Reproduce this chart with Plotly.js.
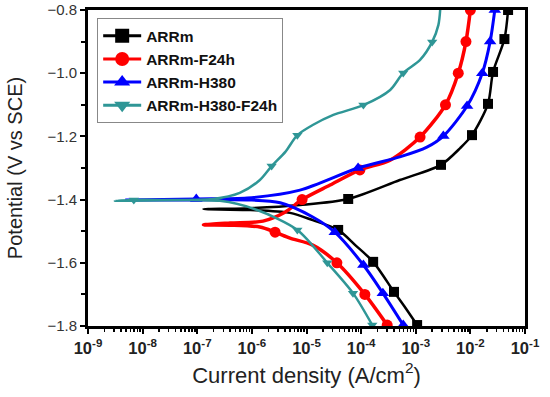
<!DOCTYPE html>
<html>
<head>
<meta charset="utf-8">
<script src="https://cdn.plot.ly/plotly-3.0.1.min.js"></script>
<style>html,body{margin:0;padding:0;background:#fff;}#chart{width:550px;height:397px;}</style>
</head>
<body>
<div id="chart"></div>
<script>
// ---- data (current density A/cm^2, potential V vs SCE) ----
const seriesNames = ["ARRm", "ARRm-F24h", "ARRm-H380", "ARRm-H380-F24h"];

// ARRm
const arrmI = [1.06e-3, 6.5e-4, 4.0e-4, 1.66e-4, 7.8e-5, 3.8e-5, 1.3e-5, 5.0e-6, 9.3e-7, 1.3e-7, 9.3e-7, 7.6e-6, 5.8e-5, 5.1e-4, 2.9e-3, 6.5e-3, 1.07e-2, 2.1e-2, 2.6e-2, 4.2e-2, 4.9e-2];
const arrmE = [-1.797, -1.743, -1.692, -1.597, -1.544, -1.496, -1.465, -1.442, -1.433, -1.430, -1.427, -1.417, -1.398, -1.338, -1.290, -1.237, -1.196, -1.097, -0.996, -0.892, -0.80];
const arrmMarkI = [1.06e-3, 4.0e-4, 1.66e-4, 3.8e-5, 5.8e-5, 2.9e-3, 1.07e-2, 2.1e-2, 2.6e-2, 4.2e-2, 4.9e-2];
const arrmMarkE = [-1.797, -1.692, -1.597, -1.496, -1.398, -1.290, -1.196, -1.097, -0.996, -0.892, -0.80];

// ARRm-F24h
const f24I = [3.0e-4, 1.17e-4, 3.6e-5, 1.3e-5, 5.0e-6, 2.66e-6, 1.4e-6, 4.0e-7, 1.3e-7, 4.0e-7, 1.6e-6, 4.1e-6, 8.3e-6, 2.7e-5, 9.5e-5, 3.4e-4, 1.2e-3, 3.5e-3, 6.0e-3, 8.3e-3, 1.0e-2];
const f24E = [-1.797, -1.700, -1.600, -1.544, -1.522, -1.503, -1.487, -1.481, -1.480, -1.474, -1.468, -1.439, -1.400, -1.354, -1.306, -1.275, -1.202, -1.100, -1.000, -0.900, -0.80];
const f24MarkI = [3.0e-4, 1.17e-4, 3.6e-5, 2.66e-6, 8.3e-6, 9.5e-5, 1.2e-3, 3.5e-3, 6.0e-3, 8.3e-3, 1.0e-2];
const f24MarkE = [-1.797, -1.700, -1.600, -1.503, -1.400, -1.306, -1.202, -1.100, -1.000, -0.900, -0.80];

// ARRm-H380
const h380I = [5.9e-4, 2.5e-4, 1.1e-4, 3.3e-5, 1.3e-5, 3.3e-6, 8.2e-7, 9.6e-8, 4.8e-9, 9.6e-8, 8.2e-7, 7.6e-6, 8.8e-5, 5.1e-4, 1.6e-3, 3.2e-3, 8.7e-3, 1.65e-2, 2.3e-2, 2.8e-2];
const h380E = [-1.797, -1.696, -1.607, -1.503, -1.455, -1.410, -1.401, -1.401, -1.401, -1.398, -1.395, -1.370, -1.300, -1.265, -1.234, -1.199, -1.104, -1.000, -0.900, -0.80];
const h380MarkI = [5.9e-4, 2.5e-4, 1.1e-4, 3.3e-5, 9.6e-8, 8.8e-5, 3.2e-3, 8.7e-3, 1.65e-2, 2.3e-2, 2.8e-2];
const h380MarkE = [-1.797, -1.696, -1.607, -1.503, -1.398, -1.300, -1.199, -1.104, -1.000, -0.900, -0.80];

// ARRm-H380-F24h
const hfI = [1.6e-4, 7.1e-5, 2.4e-5, 6.8e-6, 1.25e-6, 2.6e-7, 3.1e-9, 6.9e-9, 1.95e-7, 6.0e-7, 1.4e-6, 2.3e-6, 4.1e-6, 6.8e-6, 1.3e-5, 3.1e-5, 1.1e-4, 3.4e-4, 5.9e-4, 1.2e-3, 2.0e-3, 2.6e-3, 2.8e-3];
const hfE = [-1.797, -1.696, -1.600, -1.496, -1.433, -1.404, -1.404, -1.401, -1.398, -1.379, -1.338, -1.294, -1.249, -1.196, -1.164, -1.132, -1.101, -1.053, -0.999, -0.958, -0.901, -0.847, -0.80];
const hfMarkI = [1.6e-4, 7.1e-5, 2.4e-5, 6.8e-6, 6.9e-9, 2.3e-6, 6.8e-6, 1.1e-4, 5.9e-4, 2.0e-3];
const hfMarkE = [-1.797, -1.696, -1.600, -1.496, -1.401, -1.294, -1.196, -1.101, -0.999, -0.901];

const xTickVals = [1e-9, 1e-8, 1e-7, 1e-6, 1e-5, 1e-4, 1e-3, 1e-2, 1e-1];
const xTickText = ["10<sup>-9</sup>", "10<sup>-8</sup>", "10<sup>-7</sup>", "10<sup>-6</sup>", "10<sup>-5</sup>", "10<sup>-4</sup>", "10<sup>-3</sup>", "10<sup>-2</sup>", "10<sup>-1</sup>"];

// ---- styles ----
const colors = ["#000000", "#ff0000", "#0000ff", "#2f9696"];
const symbols = ["square", "circle", "triangle-up", "triangle-down"];
const lineWidths = [2.5, 3.5, 3, 2.5];
const markSizes = [10, 11, 11, 9];

const curves = [[arrmI, arrmE], [f24I, f24E], [h380I, h380E], [hfI, hfE]];
const marks = [[arrmMarkI, arrmMarkE], [f24MarkI, f24MarkE], [h380MarkI, h380MarkE], [hfMarkI, hfMarkE]];

const traces = [];
for (let k = 0; k < 4; k++) {
  traces.push({
    x: curves[k][0], y: curves[k][1], type: "scatter", mode: "lines",
    line: {color: colors[k], width: lineWidths[k], shape: "spline", smoothing: 0.8},
    showlegend: false, hoverinfo: "skip"
  });
  traces.push({
    x: marks[k][0], y: marks[k][1], type: "scatter", mode: "markers",
    marker: {color: colors[k], symbol: symbols[k], size: markSizes[k], line: {width: 0}},
    showlegend: false, hoverinfo: "skip"
  });
  traces.push({
    x: [null], y: [null], type: "scatter", mode: "lines+markers", name: seriesNames[k],
    line: {color: colors[k], width: 3},
    marker: {color: colors[k], symbol: symbols[k], size: 14, line: {width: 0}},
    showlegend: true
  });
}

const layout = {
  width: 550, height: 397,
  margin: {l: 88, r: 25, t: 10, b: 71},
  paper_bgcolor: "#ffffff", plot_bgcolor: "#ffffff",
  font: {family: "Liberation Sans, Arial, sans-serif", color: "#000"},
  showlegend: true,
  legend: {
    x: 0.021, y: 0.974, xanchor: "left", yanchor: "top",
    bgcolor: "#ffffff", bordercolor: "#888888", borderwidth: 1,
    font: {family: "Liberation Sans, Arial, sans-serif", size: 15.5, color: "#111", weight: "bold"},
    tracegroupgap: 0, itemwidth: 38
  },
  xaxis: {
    type: "log", range: [-9, -1],
    tickmode: "array", tickvals: xTickVals, ticktext: xTickText,
    ticks: "outside", ticklen: 5, tickwidth: 2, tickcolor: "#000",
    minor: {ticks: "outside", ticklen: 3, tickwidth: 1.5, tickcolor: "#000", dtick: "D1", showgrid: false},
    showline: true, linewidth: 3, linecolor: "#000", mirror: true,
    showgrid: false, zeroline: false,
    tickfont: {family: "Liberation Sans, Arial, sans-serif", size: 16.5, color: "#222", weight: "bold"},
    title: {text: "Current density (A/cm<sup>2</sup>)", font: {size: 22, color: "#222"}, standoff: 12}
  },
  yaxis: {
    range: [-1.8, -0.8], dtick: 0.2, tick0: -1.8, tickformat: ".1f",
    ticks: "outside", ticklen: 5, tickwidth: 2, tickcolor: "#000",
    minor: {ticks: "outside", ticklen: 4, tickwidth: 2, tickcolor: "#000", dtick: 0.1, showgrid: false},
    showline: true, linewidth: 3, linecolor: "#000", mirror: true,
    showgrid: false, zeroline: false,
    tickfont: {family: "Liberation Sans, Arial, sans-serif", size: 15, color: "#333"},
    title: {text: "Potential (V vs SCE)", font: {size: 20, color: "#222"}, standoff: 20}
  }
};

Plotly.newPlot("chart", traces, layout, {displayModeBar: false, staticPlot: true});
</script>
</body>
</html>
